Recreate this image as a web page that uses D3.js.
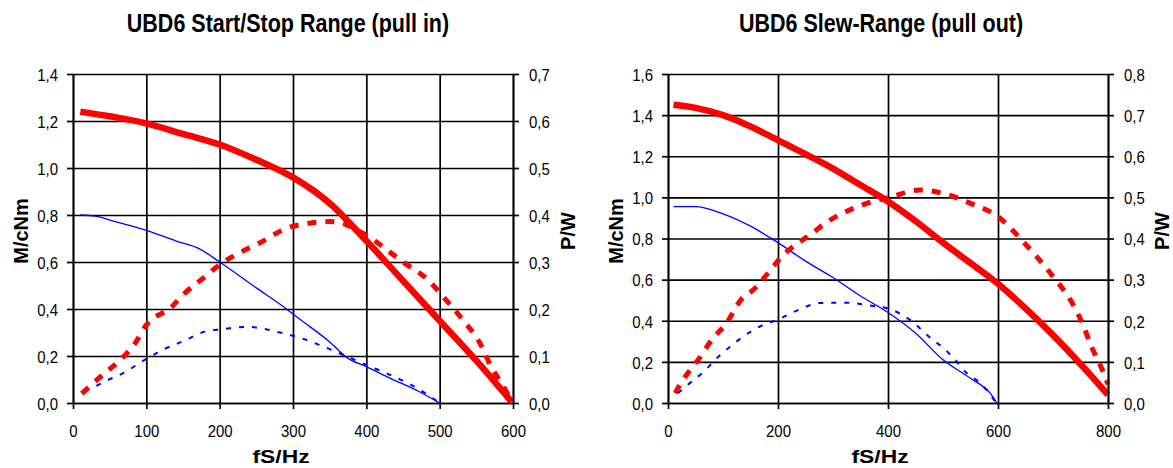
<!DOCTYPE html>
<html><head><meta charset="utf-8">
<script src="https://cdn.jsdelivr.net/npm/d3@7"></script>
<style>
body{margin:0;background:#fff}
svg{display:block}
text{font-family:"Liberation Sans",Arial,sans-serif;fill:#000}
</style>
</head><body>
<svg id="c" width="1173" height="468"></svg>
<script>
// ---------- Chart 1: pull in ----------
const pullInTitle = "UBD6 Start/Stop Range (pull in)";
const pullInXTicks = [0, 100, 200, 300, 400, 500, 600];
const pullInMTicks = [0, 0.2, 0.4, 0.6, 0.8, 1.0, 1.2, 1.4];
const pullInPTicks = [0, 0.1, 0.2, 0.3, 0.4, 0.5, 0.6, 0.7];
// [f/Hz, M/cNm]  red solid
const pullInTorqueA = [[10,1.24],[50,1.22],[100,1.19],[150,1.145],[200,1.10],[250,1.035],[300,0.96],[350,0.85],[400,0.69],[450,0.52],[500,0.35],[550,0.18],[598,0.005]];
// [f/Hz, P/W]  red dashed
const pullInPowerA = [[12,0.02],[46,0.067],[57,0.081],[85,0.128],[100,0.166],[135,0.205],[150,0.23],[181,0.27],[200,0.294],[235,0.326],[255,0.341],[292,0.372],[320,0.382],[350,0.386],[375,0.378],[400,0.357],[450,0.30],[484,0.262],[505,0.226],[530,0.18],[555,0.127],[571,0.075],[585,0.04],[598,0.005]];
// [f/Hz, M/cNm]  blue solid
const pullInTorqueB = [[10,0.80],[30,0.795],[60,0.77],[100,0.735],[140,0.69],[173,0.655],[200,0.60],[250,0.49],[287,0.41],[310,0.355],[350,0.26],[375,0.19],[400,0.155],[432,0.106],[471,0.05],[500,0.0]];
// [f/Hz, P/W]  blue dashed
const pullInPowerB = [[16,0.024],[48,0.049],[69,0.064],[100,0.094],[125,0.115],[148,0.13],[182,0.153],[203,0.157],[237,0.162],[282,0.15],[305,0.141],[337,0.123],[369,0.102],[400,0.081],[432,0.06],[471,0.03],[500,0.0]];

// ---------- Chart 2: pull out ----------
const pullOutTitle = "UBD6 Slew-Range (pull out)";
const pullOutXTicks = [0, 200, 400, 600, 800];
const pullOutMTicks = [0, 0.2, 0.4, 0.6, 0.8, 1.0, 1.2, 1.4, 1.6];
const pullOutPTicks = [0, 0.1, 0.2, 0.3, 0.4, 0.5, 0.6, 0.7, 0.8];
const pullOutTorqueA = [[10,1.45],[50,1.435],[100,1.40],[150,1.345],[200,1.278],[250,1.21],[300,1.14],[350,1.06],[400,0.98],[450,0.885],[500,0.78],[550,0.68],[600,0.58],[650,0.46],[700,0.33],[750,0.19],[800,0.04]];
const pullOutPowerA = [[13,0.024],[18,0.036],[40,0.08],[55,0.105],[82,0.158],[104,0.19],[134,0.253],[155,0.275],[191,0.331],[204,0.352],[240,0.392],[253,0.404],[295,0.445],[352,0.481],[407,0.502],[458,0.518],[504,0.508],[549,0.486],[600,0.453],[646,0.392],[695,0.316],[737,0.238],[752,0.198],[771,0.134],[792,0.073],[800,0.045]];
const pullOutTorqueB = [[10,0.955],[50,0.955],[100,0.92],[150,0.86],[200,0.78],[250,0.69],[300,0.61],[350,0.52],[400,0.44],[450,0.34],[500,0.21],[550,0.12],[585,0.05],[598,0.0]];
const pullOutPowerB = [[18,0.024],[43,0.052],[64,0.075],[91,0.112],[113,0.137],[146,0.17],[167,0.186],[198,0.202],[240,0.228],[276,0.243],[325,0.244],[361,0.238],[404,0.228],[440,0.202],[480,0.155],[498,0.137],[522,0.105],[543,0.073],[564,0.052],[582,0.027],[595,0.003]];

const xTitle = "fS/Hz", mTitle = "M/cNm", pTitle = "P/W";

const svg = d3.select("#c");
const fmt = v => d3.format(".1f")(v).replace(".", ",");
const fmtX = d3.format("d");

function drawChart(cfg) {
  const top = 74, bottom = 403;
  const x = d3.scaleLinear().domain([0, cfg.xTicks[cfg.xTicks.length-1]]).range([cfg.left, cfg.right]);
  const yM = d3.scaleLinear().domain([0, cfg.mTicks[cfg.mTicks.length-1]]).range([bottom, top]);
  const yP = d3.scaleLinear().domain([0, cfg.pTicks[cfg.pTicks.length-1]]).range([bottom, top]);
  const g = svg.append("g");

  // grid
  g.append("g").attr("transform", `translate(0,${bottom})`)
    .call(d3.axisBottom(x).tickValues(cfg.xTicks).tickSize(-(bottom-top)).tickFormat(""))
    .call(s => s.select(".domain").remove())
    .selectAll("line").attr("stroke", "#000").attr("stroke-width", 1.7);
  g.append("g").attr("transform", `translate(${cfg.left},0)`)
    .call(d3.axisLeft(yM).tickValues(cfg.mTicks).tickSize(-(cfg.right-cfg.left)).tickFormat(""))
    .call(s => s.select(".domain").remove())
    .selectAll("line").attr("stroke", "#000").attr("stroke-width", 1.7);

  // curves
  const lineM = d3.line().x(d => x(d[0])).y(d => yM(d[1])).curve(d3.curveMonotoneX);
  const lineP = d3.line().x(d => x(d[0])).y(d => yP(d[1])).curve(d3.curveMonotoneX);
  g.append("path").datum(cfg.powerB).attr("d", lineP).attr("fill", "none")
    .attr("stroke", "#0000FF").attr("stroke-width", 2).attr("stroke-dasharray", "5,8");
  g.append("path").datum(cfg.torqueB).attr("d", lineM).attr("fill", "none")
    .attr("stroke", "#0000FF").attr("stroke-width", 1.3);
  g.append("path").datum(cfg.powerA).attr("d", lineP).attr("fill", "none")
    .attr("stroke", "#FF0000").attr("stroke-width", 5).attr("stroke-dasharray", "9,9");
  g.append("path").datum(cfg.torqueA).attr("d", lineM).attr("fill", "none")
    .attr("stroke", "#FF0000").attr("stroke-width", 6.5);

  // axes with outer ticks
  const styleAxis = s => {
    s.select(".domain").attr("stroke", "#000").attr("stroke-width", 1.7);
    s.selectAll(".tick line").attr("stroke", "#000").attr("stroke-width", 1.7);
    s.selectAll("text").attr("font-size", 15).attr("font-family", '"Liberation Sans",Arial,sans-serif');
  };
  const ax = g.append("g").attr("transform", `translate(0,${bottom})`)
    .call(d3.axisBottom(x).tickValues(cfg.xTicks).tickSize(6).tickSizeOuter(0).tickFormat(fmtX))
    .call(styleAxis);
  ax.selectAll("text").attr("y", 34/1.15).attr("dy", 0).attr("transform", "scale(1,1.15)");

  const al = g.append("g").attr("transform", `translate(${cfg.left},0)`)
    .call(d3.axisLeft(yM).tickValues(cfg.mTicks).tickSize(6).tickSizeOuter(0).tickPadding(9).tickFormat(fmt))
    .call(styleAxis);
  al.selectAll("text").attr("y", 5.5).attr("dy", 0).attr("transform", "scale(1,1.15)");

  const ar = g.append("g").attr("transform", `translate(${cfg.right},0)`)
    .call(d3.axisRight(yP).tickValues(cfg.pTicks).tickSize(6).tickSizeOuter(0).tickPadding(10).tickFormat(fmt))
    .call(styleAxis);
  ar.selectAll("text").attr("y", 5.5).attr("dy", 0).attr("transform", "scale(1,1.15)");

  // titles
  g.append("text").attr("transform", `translate(${cfg.titleX},32) scale(1,1.2)`)
    .attr("text-anchor", "middle").attr("font-size", 21.5).attr("font-weight", "bold").text(cfg.title);
  g.append("text").attr("transform", `translate(${cfg.xTitleX},463) scale(1.27,1)`)
    .attr("text-anchor", "middle").attr("font-size", 18).attr("font-weight", "bold").text(xTitle);
  g.append("text").attr("transform", `translate(${cfg.mTitleX},231) rotate(-90)`)
    .attr("text-anchor", "middle").attr("font-size", 20).attr("font-weight", "bold").text(mTitle);
  g.append("text").attr("transform", `translate(${cfg.pTitleX},231) rotate(-90)`)
    .attr("text-anchor", "middle").attr("font-size", 20).attr("font-weight", "bold").text(pTitle);
}

drawChart({
  left: 73, right: 513, title: pullInTitle, titleX: 288, xTitleX: 281, mTitleX: 28, pTitleX: 575,
  xTicks: pullInXTicks, mTicks: pullInMTicks, pTicks: pullInPTicks,
  torqueA: pullInTorqueA, powerA: pullInPowerA, torqueB: pullInTorqueB, powerB: pullInPowerB
});
drawChart({
  left: 668, right: 1108, title: pullOutTitle, titleX: 881, xTitleX: 880, mTitleX: 623, pTitleX: 1169,
  xTicks: pullOutXTicks, mTicks: pullOutMTicks, pTicks: pullOutPTicks,
  torqueA: pullOutTorqueA, powerA: pullOutPowerA, torqueB: pullOutTorqueB, powerB: pullOutPowerB
});
</script>
</body></html>
